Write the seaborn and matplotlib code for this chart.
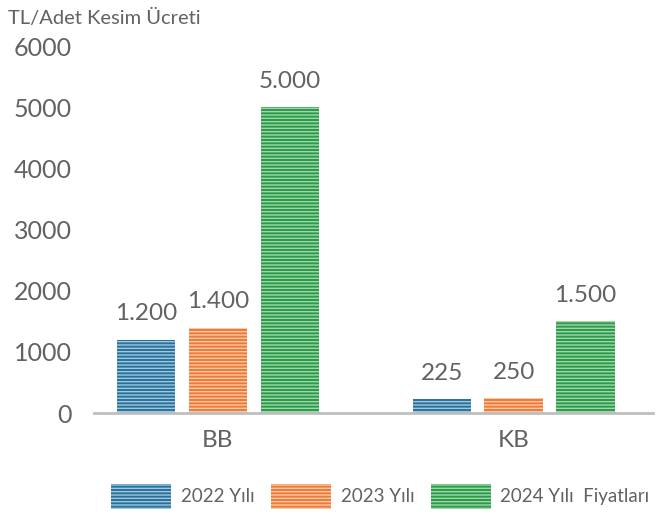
import matplotlib
matplotlib.use("Agg")
import matplotlib.pyplot as plt
import matplotlib.patches as mpatches
import seaborn as sns
import pandas as pd

# Cutting fee per unit (TL) by carcass type and year
categories = ["BB", "KB"]
years = ["2022 Yılı", "2023 Yılı", "2024 Yılı"]
fees_2022 = [1200, 225]
fees_2023 = [1400, 250]
fees_2024 = [5000, 1500]
y_ticks = [0, 1000, 2000, 3000, 4000, 5000, 6000]
legend_labels = ["2022 Yılı", "2023 Yılı", "2024 Yılı  Fiyatları"]

base_colors = ["#2a7099", "#ec7a38", "#2b9a4a"]
stripe_colors = ["#9cc8e0", "#fbc9a6", "#9ed8a9"]

rows = []
for year, vals in zip(years, [fees_2022, fees_2023, fees_2024]):
    for cat, v in zip(categories, vals):
        rows.append({"Kategori": cat, "Yıl": year, "Ücret": v})
df = pd.DataFrame(rows)

sns.set_style("white")
plt.rcParams["font.family"] = ["Lato", "DejaVu Sans"]
plt.rcParams["hatch.linewidth"] = 1.0
text_color = "#626262"

fig = plt.figure(figsize=(6.56, 5.19), dpi=100)
ax = fig.add_axes([0.143, 0.204, 0.852, 0.707])

sns.barplot(data=df, x="Kategori", y="Ücret", hue="Yıl", order=categories,
            hue_order=years, palette=base_colors, width=0.73, gap=0.19,
            legend=False, ax=ax, saturation=1)

for cont, base, stripe in zip(ax.containers, base_colors, stripe_colors):
    for bar in cont:
        bar.set_facecolor(base)
        bar.set_edgecolor(stripe)
        bar.set_linewidth(0)
        bar.set_hatch("-----")
    ax.bar_label(cont, labels=[f"{int(v):,}".replace(",", ".") for v in cont.datavalues],
                 padding=11, fontsize=17.5, color=text_color)

ax.set_ylim(0, 6000)
ax.set_xlim(-0.419, 1.47)
ax.set_yticks(y_ticks)
ax.set_yticklabels([str(t) for t in y_ticks])
ax.set_xlabel("")
ax.set_ylabel("")
for s in ["top", "right", "left"]:
    ax.spines[s].set_visible(False)
ax.spines["bottom"].set_color("#bfbfbf")
ax.spines["bottom"].set_linewidth(2)
ax.tick_params(axis="y", length=0, pad=16, labelsize=18, labelcolor=text_color)
ax.tick_params(axis="x", length=0, pad=12, labelsize=17.5, labelcolor=text_color)

fig.text(0.012, 0.965, "TL/Adet Kesim Ücreti", fontsize=14.5, color=text_color,
         ha="left", va="center")

handles = [mpatches.Patch(facecolor=b, edgecolor=s, hatch="-----", linewidth=0)
           for b, s in zip(base_colors, stripe_colors)]
fig.legend(handles, legend_labels, loc="center", bbox_to_anchor=(0.58, 0.044),
           ncol=3, frameon=False, fontsize=13.5, labelcolor=text_color,
           handlelength=3.2, handleheight=1.7, handletextpad=0.5,
           columnspacing=0.9)

fig.savefig("out.png", dpi=100)
